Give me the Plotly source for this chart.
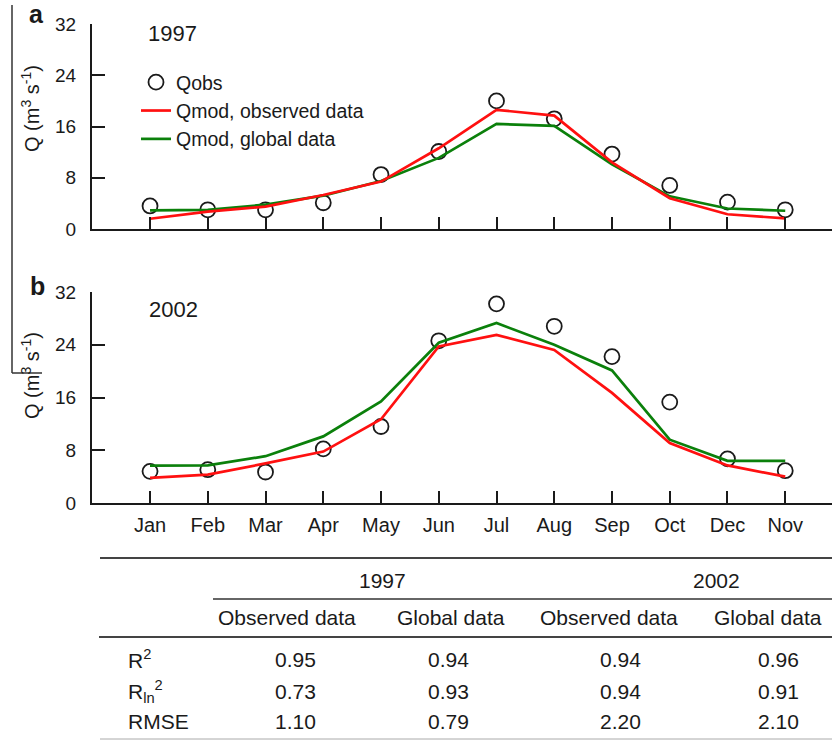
import plotly.graph_objects as go

W, H = 832, 740

# ---------------- data ----------------
months = ["Jan", "Feb", "Mar", "Apr", "May", "Jun", "Jul", "Aug", "Sep", "Oct", "Dec", "Nov"]

qobs_1997 = [3.6, 3.0, 3.0, 4.1, 8.5, 12.1, 20.0, 17.2, 11.7, 6.8, 4.2, 3.0]
qmod_obs_1997 = [1.6, 2.7, 3.5, 5.3, 7.4, 12.6, 18.6, 17.7, 10.4, 4.8, 2.3, 1.65]
qmod_glob_1997 = [2.9, 3.0, 3.8, 5.2, 7.5, 11.1, 16.4, 16.1, 10.1, 5.1, 3.2, 2.85]

qobs_2002 = [4.8, 5.05, 4.7, 8.2, 11.6, 24.6, 30.2, 26.8, 22.2, 15.3, 6.7, 4.9]
qmod_obs_2002 = [3.8, 4.3, 6.0, 7.8, 12.7, 23.75, 25.5, 23.2, 16.7, 9.1, 5.7, 4.0]
qmod_glob_2002 = [5.66, 5.7, 7.1, 10.1, 15.4, 24.3, 27.3, 24.0, 20.1, 9.6, 6.4, 6.4]

y_ticks = [0, 8, 16, 24, 32]

table_years = ["1997", "2002"]
table_cols = ["Observed data", "Global data", "Observed data", "Global data"]
table_rows = ["R<sup>2</sup>", "R<sub>ln</sub><sup>2</sup>", "RMSE"]
r2_vals = ["0.95", "0.94", "0.94", "0.96"]
rln2_vals = ["0.73", "0.93", "0.94", "0.91"]
rmse_vals = ["1.10", "0.79", "2.20", "2.10"]

# ---------------- helpers ----------------
def X(px):
    return px / W

def Y(py):
    return 1 - py / H

FONT = "Liberation Sans, Arial, sans-serif"
RED = "#ff1010"
GREEN = "#0b800b"
INK = "#1a1a1a"

fig = go.Figure()

panels = [
    ("x", "y", qobs_1997, qmod_obs_1997, qmod_glob_1997, True),
    ("x2", "y2", qobs_2002, qmod_obs_2002, qmod_glob_2002, False),
]
for xa, ya, qo, qm, qg, leg in panels:
    fig.add_trace(go.Scatter(
        x=months, y=qo, mode="markers", name="Qobs", xaxis=xa, yaxis=ya,
        marker=dict(symbol="circle-open", size=15, color=INK, line=dict(width=1.8, color=INK)),
        showlegend=leg, legendrank=1))
    fig.add_trace(go.Scatter(
        x=months, y=qg, mode="lines", name="Qmod, global data", xaxis=xa, yaxis=ya,
        line=dict(color=GREEN, width=2.7), showlegend=leg, legendrank=3))
    fig.add_trace(go.Scatter(
        x=months, y=qm, mode="lines", name="Qmod, observed data", xaxis=xa, yaxis=ya,
        line=dict(color=RED, width=2.7), showlegend=leg, legendrank=2))

xcommon = dict(
    type="category", categoryorder="array", categoryarray=months,
    range=[-1.005, 11.81], domain=[X(92), 1.0], automargin=False,
    showline=True, linewidth=2, linecolor=INK, showgrid=False, zeroline=False,
    ticks="inside", ticklen=12, tickwidth=1.6, tickcolor=INK,
    tickfont=dict(family=FONT, size=20, color=INK),
)
ycommon = dict(
    range=[0, 32], tickvals=y_ticks, ticktext=[str(v) for v in y_ticks], automargin=False,
    showline=True, linewidth=2, linecolor=INK, showgrid=False, zeroline=False,
    ticks="inside", ticklen=13, tickwidth=1.6, tickcolor=INK,
    tickfont=dict(family=FONT, size=19, color=INK), ticklabelstandoff=10,
)

fig.update_layout(
    width=W, height=H, margin=dict(l=0, r=0, t=0, b=0, pad=0, autoexpand=False),
    paper_bgcolor="white", plot_bgcolor="white",
    font=dict(family=FONT, size=19, color=INK),
    xaxis=dict(**xcommon, anchor="y", showticklabels=False),
    yaxis=dict(**ycommon, anchor="x", domain=[Y(229), Y(24)]),
    xaxis2=dict(**xcommon, anchor="y2", showticklabels=True, ticklabelstandoff=3),
    yaxis2=dict(**ycommon, anchor="x2", domain=[Y(503), Y(292)]),
    legend=dict(x=X(136), y=Y(63), xanchor="left", yanchor="top",
                bgcolor="rgba(0,0,0,0)", font=dict(family=FONT, size=19.5, color=INK),
                tracegroupgap=0),
)

ann = []
def A(text, px, py, size, **kw):
    d = dict(text=text, x=X(px), y=Y(py), xref="paper", yref="paper", showarrow=False,
             xanchor=kw.pop("xanchor", "center"), yanchor=kw.pop("yanchor", "middle"),
             font=dict(family=FONT, size=size, color=INK))
    d.update(kw)
    ann.append(d)

# panel letters
A("<b>a</b>", 36, 14, 25)
A("<b>b</b>", 37, 286, 25)
# years
A("1997", 172, 34, 22)
A("2002", 173, 309, 22)
# y-axis titles
for cy in (108, 375):
    A("Q (m<sup>3</sup> s<sup>-1</sup>)", 30, cy, 20, textangle=-90)

# table text
for t, cx in zip(table_years, [382, 716]):
    A(t, cx, 580, 21)
for t, cx in zip(table_cols, [287, 451, 609, 768]):
    A(t, cx, 617, 21)
row_y = [659, 691, 721]
for lab, ry in zip(table_rows, row_y):
    A(lab, 126, ry, 21, xanchor="left")
for vals, ry in zip([r2_vals, rln2_vals, rmse_vals], row_y):
    for v, cx in zip(vals, [295, 448, 620, 778]):
        A(v, cx, ry, 21)

fig.update_layout(annotations=ann)

shapes = [
    dict(type="line", x0=X(100), x1=X(832), y0=Y(558), y1=Y(558), line=dict(color="#444", width=2)),
    dict(type="line", x0=X(213), x1=X(832), y0=Y(599), y1=Y(599), line=dict(color="#333", width=1.6)),
    dict(type="line", x0=X(99), x1=X(832), y0=Y(637), y1=Y(637), line=dict(color="#444", width=2)),
    dict(type="line", x0=X(100), x1=X(832), y0=Y(739), y1=Y(739), line=dict(color="#aaa", width=1)),
    # frame remnant on the far left
    dict(type="line", x0=X(12), x1=X(12), y0=Y(5), y1=Y(373), line=dict(color="#333", width=1.5)),
    dict(type="line", x0=X(12), x1=X(42), y0=Y(373), y1=Y(373), line=dict(color="#333", width=1.5)),
]
for s in shapes:
    s["xref"] = "paper"
    s["yref"] = "paper"
fig.update_layout(shapes=shapes)

fig.write_html("out.html", config={"displayModeBar": False},
               post_script="document.body.style.margin='0px';")
